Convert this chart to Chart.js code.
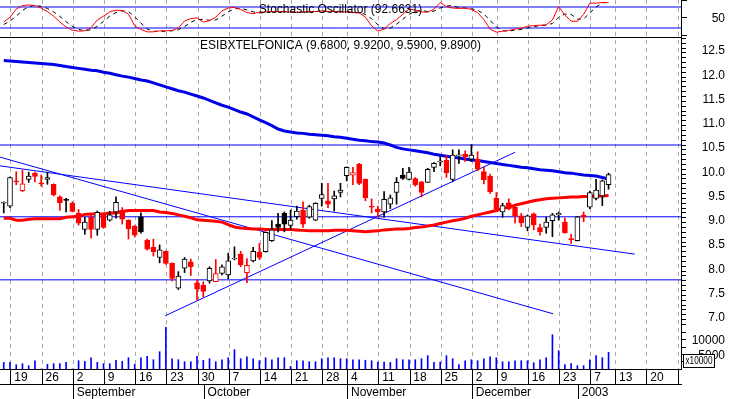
<!DOCTYPE html>
<html>
<head>
<meta charset="utf-8">
<script src="https://cdn.jsdelivr.net/npm/chart.js@4.4.1/dist/chart.umd.min.js"></script>
<style>
html, body { margin: 0; padding: 0; background: #fff; }
#wrap { width: 730px; height: 399px; }
</style>
</head>
<body>
<div id="wrap"><canvas id="chart" width="730" height="399"></canvas></div>
<script>
// trading day index: -1 = 16 Aug 2002, 0 = 19 Aug 2002 ... 96 = 10 Jan 2003
const firstDay = -1;
const symbol = "ESIBXTELFONICA";

const opens = [
  9.30, 9.24, 9.76, 9.56, 9.79, 9.92, 9.72, 9.79, 9.69, 9.43,
  9.38, 9.30, 9.09, 8.76, 9.01, 8.76, 9.08, 8.95, 9.12, 9.16,
  8.95, 8.83, 9.02, 8.54, 8.39, 8.18, 8.31, 8.06, 7.55, 7.96,
  8.09, 7.66, 7.61, 7.70, 7.68, 7.85, 7.82, 8.15, 8.25, 7.87,
  8.11, 8.29, 8.30, 8.53, 8.87, 9.09, 8.84, 9.02, 9.16, 9.01,
  8.95, 9.40, 9.35, 9.39, 9.52, 9.87, 9.88, 10.10, 9.79, 9.24,
  9.18, 9.12, 9.28, 9.52, 9.88, 9.79, 9.81, 9.74, 9.73, 10.04,
  10.15, 10.19, 9.79, 10.27, 10.31, 10.21, 10.21, 9.95, 9.86, 9.40,
  9.12, 9.31, 9.22, 9.04, 8.80, 9.08, 8.80, 8.80, 8.94, 9.06,
  8.91, 8.57, 8.53, 9.05, 9.22, 9.40, 9.45, 9.68
];
const highs = [
  9.33, 9.84, 9.95, 9.98, 9.94, 9.94, 9.88, 9.94, 9.70, 9.45,
  9.40, 9.33, 9.17, 9.01, 9.08, 9.14, 9.10, 9.13, 9.43, 9.21,
  8.96, 8.84, 9.10, 8.56, 8.56, 8.44, 8.32, 8.07, 7.89, 8.18,
  8.15, 7.73, 7.68, 7.99, 8.14, 8.03, 8.27, 8.40, 8.31, 8.16,
  8.39, 8.47, 8.71, 8.94, 9.09, 9.12, 9.16, 9.24, 9.33, 9.26,
  9.31, 9.71, 9.71, 9.55, 9.71, 10.05, 10.04, 10.12, 9.80, 9.39,
  9.24, 9.54, 9.47, 9.83, 10.02, 10.04, 9.83, 9.75, 10.02, 10.14,
  10.26, 10.29, 10.40, 10.40, 10.38, 10.51, 10.36, 10.04, 9.90, 9.52,
  9.30, 9.39, 9.23, 9.09, 9.06, 9.10, 8.87, 9.01, 9.09, 9.12,
  9.00, 8.66, 9.03, 9.12, 9.55, 9.79, 9.78, 9.92
];
const lows = [
  9.10, 9.21, 9.68, 9.54, 9.73, 9.74, 9.65, 9.69, 9.45, 9.15,
  9.12, 9.12, 8.85, 8.66, 8.58, 8.64, 8.78, 8.93, 8.99, 8.87,
  8.56, 8.60, 8.68, 8.33, 8.21, 8.07, 8.04, 7.70, 7.52, 7.87,
  7.81, 7.30, 7.37, 7.65, 7.68, 7.82, 7.74, 8.13, 7.99, 7.66,
  8.09, 8.14, 8.29, 8.51, 8.71, 8.71, 8.76, 8.97, 8.80, 8.99,
  8.94, 9.24, 9.21, 9.14, 9.43, 9.76, 9.68, 9.68, 9.35, 9.10,
  9.01, 9.01, 9.19, 9.28, 9.79, 9.78, 9.65, 9.43, 9.73, 9.95,
  10.07, 9.83, 9.74, 10.12, 10.16, 10.16, 9.97, 9.70, 9.50, 9.13,
  9.01, 9.16, 8.89, 8.82, 8.73, 8.75, 8.64, 8.68, 8.61, 8.95,
  8.68, 8.47, 8.52, 8.92, 9.19, 9.37, 9.25, 9.59
];
const closes = [
  9.32, 9.83, 9.74, 9.70, 9.86, 9.85, 9.70, 9.83, 9.47, 9.31,
  9.36, 9.13, 8.89, 8.91, 8.76, 9.11, 8.80, 9.06, 9.32, 8.97,
  8.77, 8.64, 8.71, 8.35, 8.30, 8.34, 8.06, 7.75, 7.80, 8.15,
  7.99, 7.53, 7.48, 7.96, 7.85, 7.99, 8.11, 8.17, 8.03, 8.02,
  8.31, 8.18, 8.70, 8.75, 8.80, 8.87, 8.95, 9.14, 8.87, 9.23,
  9.30, 9.48, 9.28, 9.45, 9.57, 10.04, 9.93, 9.71, 9.41, 9.22,
  9.12, 9.38, 9.41, 9.73, 9.81, 9.94, 9.68, 9.52, 10.00, 10.12,
  10.17, 9.93, 10.29, 10.30, 10.26, 10.29, 10.00, 9.78, 9.54, 9.17,
  9.25, 9.18, 9.04, 8.90, 9.04, 8.85, 8.71, 8.91, 9.06, 9.09,
  8.69, 8.55, 9.02, 9.01, 9.52, 9.57, 9.76, 9.89
];
// volume in units of 10000 shares
const volumes = [
  2250, 2250, 1470, 1810, 1130, 2830, 0, 1580, 1810, 1810,
  2250, 0, 2830, 2600, 3850, 2250, 1810, 1810, 2950, 2600,
  3850, 1580, 3850, 4300, 3170, 5900, 14200, 3510, 3170, 2490,
  2490, 4300, 2950, 3510, 2490, 3170, 3850, 6590, 3510, 4190,
  3510, 2830, 3850, 3170, 3850, 3850, 900, 2830, 2830, 2490,
  2490, 3510, 3850, 3850, 3510, 3510, 3170, 3170, 3000, 2830,
  2380, 2380, 2250, 3510, 3170, 3170, 3170, 3510, 4540, 2250,
  2380, 4540, 3510, 1470, 2830, 3170, 2830, 3510, 4190, 3850,
  2490, 2490, 2830, 2830, 2830, 2150, 3170, 3850, 11700, 6250,
  1470, 1810, 1130, 1130, 3170, 4540, 3850, 5680
];
const maLong = [
  12.24, 12.23, 12.22, 12.21, 12.20, 12.19, 12.18, 12.17, 12.16, 12.14,
  12.12, 12.10, 12.08, 12.06, 12.04, 12.03, 12.00, 11.98, 11.95, 11.92,
  11.90, 11.87, 11.84, 11.82, 11.78, 11.74, 11.70, 11.66, 11.62, 11.59,
  11.55, 11.51, 11.47, 11.42, 11.37, 11.32, 11.28, 11.23, 11.18, 11.14,
  11.08, 11.02, 10.96, 10.90, 10.83, 10.79, 10.77, 10.75, 10.74, 10.72,
  10.71, 10.70, 10.69, 10.67, 10.66, 10.64, 10.62, 10.60, 10.59, 10.57,
  10.56, 10.54, 10.50, 10.45, 10.42, 10.40, 10.38, 10.36, 10.34, 10.31,
  10.29, 10.27, 10.25, 10.23, 10.21, 10.19, 10.18, 10.16, 10.14, 10.12,
  10.10, 10.08, 10.06, 10.04, 10.03, 10.01, 9.99, 9.98, 9.97, 9.95,
  9.93, 9.92, 9.90, 9.88, 9.87, 9.86, 9.83, 9.80
];
const maShort = [
  8.99, 8.99, 8.95, 8.95, 8.97, 8.98, 8.98, 8.98, 8.98, 8.98,
  9.01, 9.02, 9.03, 9.07, 9.08, 9.08, 9.08, 9.10, 9.10, 9.13,
  9.15, 9.15, 9.15, 9.15, 9.15, 9.12, 9.11, 9.09, 9.06, 9.03,
  9.00, 8.96, 8.95, 8.94, 8.93, 8.91, 8.86, 8.81, 8.79, 8.78,
  8.77, 8.77, 8.76, 8.76, 8.76, 8.76, 8.76, 8.75, 8.74, 8.73,
  8.73, 8.73, 8.73, 8.74, 8.74, 8.74, 8.73, 8.72, 8.71, 8.72,
  8.73, 8.75, 8.76, 8.77, 8.77, 8.78, 8.80, 8.81, 8.83, 8.85,
  8.88, 8.91, 8.94, 8.96, 8.99, 9.03, 9.06, 9.09, 9.12, 9.15,
  9.19, 9.22, 9.26, 9.29, 9.32, 9.35, 9.37, 9.39, 9.40, 9.41,
  9.42, 9.43, 9.43, 9.44, 9.44, 9.45, 9.45, 9.46
];
const stochK = [
  37, 51, 74, 84, 86, 84, 77, 67, 54, 37,
  23, 14, 11, 12, 21, 43, 54, 66, 71, 70,
  60, 26, 16, 9, 9, 12, 12, 13, 20, 40,
  47, 49, 37, 41, 51, 69, 77, 79, 73, 64,
  61, 65, 66, 67, 67, 66, 66, 64, 66, 67,
  67, 69, 67, 67, 66, 66, 64, 63, 51, 26,
  11, 17, 33, 44, 59, 74, 71, 66, 65, 74,
  93, 81, 77, 76, 77, 73, 64, 44, 17, 8,
  11, 13, 17, 19, 25, 27, 28, 29, 43, 81,
  57, 40, 39, 59, 91, 91, 93, 92.6631
];
const stochD = [
  30, 40, 54, 70, 81, 85, 82, 76, 66, 53,
  38, 25, 16, 12, 15, 25, 39, 54, 64, 69,
  67, 52, 34, 17, 11, 10, 11, 12, 15, 24,
  36, 45, 44, 42, 43, 54, 66, 75, 76, 72,
  66, 63, 64, 66, 67, 67, 66, 65, 65, 66,
  67, 68, 68, 68, 67, 66, 65, 64, 59, 47,
  29, 18, 20, 31, 45, 59, 68, 70, 67, 68,
  77, 83, 84, 78, 77, 75, 71, 60, 42, 23,
  12, 11, 14, 16, 20, 24, 27, 28, 33, 51,
  60, 59, 45, 46, 63, 80, 92, 93
];
const stochLevels = [80, 20];
const priceLevels = [10.5, 9.02, 7.72];
// trend lines as [day index, price] pairs
const trendA = [[-1.6, 10.07], [100.2, 8.25]];
const trendB = [[-1.6, 10.25], [87.1, 7.02]];
const trendC = [[24.9, 6.98], [81.0, 10.35]];

const weekTicks = [0, 5, 10, 15, 20, 25, 30, 35, 40, 45, 50, 54, 59, 64, 69, 74, 78, 83, 88, 93, 97, 102, 107];
const weekLabels = ["19", "26", "2", "9", "16", "23", "30", "7", "14", "21", "28", "4", "11", "18", "25", "2", "9", "16", "23", "7", "13", "20", ""];
const monthTicks = [10, 31, 54, 74, 91];
const monthLabels = ["September", "October", "November", "December", "2003"];

const xMin = -1.604;
const xMax = 107.62;
const red = "#ff0000";
const black = "#000000";
const blue = "#0000ff";

Chart.defaults.font.family = '"Liberation Sans", Arial, sans-serif';
Chart.defaults.font.size = 12;
Chart.defaults.color = "#000";

const days = opens.map((_, k) => firstDay + k);
const series = arr => arr.map((v, k) => ({ x: days[k], y: v }));
const segment = pts => pts.map(p => ({ x: p[0], y: p[1] }));
const flat = v => [{ x: xMin, y: v }, { x: xMax, y: v }];

function candleColor(k) {
    return (k > 0 && closes[k] < closes[k - 1]) ? red : black;
}

function fixWidth(scale) {
    scale.width = 44;
    scale.paddingTop = 0;
    scale.paddingBottom = 0;
}

function fixHeight(scale) {
    scale.height = 15;
    scale.paddingLeft = 0;
    scale.paddingRight = 0;
}

const panelText = {
    id: "panelText",
    afterDraw(chart) {
        const ctx = chart.ctx;
        const area = chart.chartArea;
        const osc = chart.scales.yOsc;
        const price = chart.scales.yPrice;
        const vol = chart.scales.yVol;
        const last = opens.length - 1;
        const cx = (area.left + area.right) / 2;

        ctx.save();
        ctx.fillStyle = "#000";
        ctx.textAlign = "center";
        ctx.textBaseline = "middle";
        ctx.font = '12px "Liberation Sans", Arial, sans-serif';
        ctx.fillText("Stochastic Oscillator (" + stochK[last].toFixed(4) + ")", cx, osc.top + 9.5);
        ctx.fillText(symbol + " (" + [opens[last], highs[last], lows[last], closes[last]].map(v => v.toFixed(4)).join(", ") + ")", cx, price.top + 9);

        // line between oscillator and price panels
        ctx.strokeStyle = "#000";
        ctx.lineWidth = 1;
        ctx.beginPath();
        ctx.moveTo(area.left, Math.round(price.top) + 0.5);
        ctx.lineTo(area.right, Math.round(price.top) + 0.5);
        ctx.stroke();

        // volume multiplier box
        const bx = Math.round(vol.left) + 2.5;
        const by = Math.round(vol.bottom) - 14.5;
        ctx.fillStyle = "#fff";
        ctx.fillRect(bx, by, 31, 13);
        ctx.strokeRect(bx, by, 31, 13);
        ctx.fillStyle = "#000";
        ctx.textAlign = "left";
        ctx.font = '10px "Liberation Sans", Arial, sans-serif';
        ctx.fillText("x10000", bx + 2, by + 7, 27);
        ctx.restore();
    }
};

new Chart(document.getElementById("chart"), {

    type: "bar",

    data: {

        datasets: [

            {
                type: "bar",
                label: "Volume",
                yAxisID: "yVol",
                data: series(volumes),
                backgroundColor: blue,
                barThickness: 1,
                grouped: false,
                order: 6
            },

            ...stochLevels.map(v => ({
                type: "line",
                yAxisID: "yOsc",
                data: flat(v),
                borderColor: blue,
                borderWidth: 1,
                pointRadius: 0,
                order: 5
            })),

            {
                type: "line",
                label: "%D",
                yAxisID: "yOsc",
                data: series(stochD),
                borderColor: black,
                borderWidth: 1,
                borderDash: [4, 4],
                pointRadius: 0,
                order: 4
            },

            {
                type: "line",
                label: "%K",
                yAxisID: "yOsc",
                data: series(stochK),
                borderColor: red,
                borderWidth: 1,
                pointRadius: 0,
                order: 3
            },

            ...priceLevels.map(v => ({
                type: "line",
                yAxisID: "yPrice",
                data: flat(v),
                borderColor: blue,
                borderWidth: 1,
                pointRadius: 0,
                order: 5
            })),

            ...[trendA, trendB, trendC].map(t => ({
                type: "line",
                yAxisID: "yPrice",
                data: segment(t),
                borderColor: blue,
                borderWidth: 1,
                pointRadius: 0,
                order: 5
            })),

            {
                type: "line",
                label: "Long average",
                yAxisID: "yPrice",
                data: series(maLong),
                borderColor: "#0000e8",
                borderWidth: 3,
                pointRadius: 0,
                order: 2
            },

            {
                type: "line",
                label: "Short average",
                yAxisID: "yPrice",
                data: series(maShort),
                borderColor: red,
                borderWidth: 3,
                pointRadius: 0,
                order: 2
            },

            {
                type: "bar",
                label: "Wicks",
                yAxisID: "yPrice",
                data: days.map((d, k) => ({ x: d, y: [lows[k], highs[k]] })),
                backgroundColor: ctx => candleColor(ctx.dataIndex),
                barThickness: 1,
                grouped: false,
                order: 1
            },

            {
                type: "bar",
                label: "Bodies",
                yAxisID: "yPrice",
                data: days.map((d, k) => ({ x: d, y: [opens[k], closes[k]] })),
                backgroundColor: ctx => closes[ctx.dataIndex] < opens[ctx.dataIndex] ? candleColor(ctx.dataIndex) : "#ffffff",
                borderColor: ctx => candleColor(ctx.dataIndex),
                borderWidth: 1,
                borderSkipped: false,
                barThickness: 5,
                grouped: false,
                order: 0
            }

        ]

    },

    options: {

        responsive: false,
        animation: false,
        devicePixelRatio: 1,
        events: [],

        layout: {
            padding: { top: 0, left: 0, bottom: 0, right: 5 }
        },

        plugins: {
            legend: { display: false },
            title: { display: false },
            tooltip: { enabled: false }
        },

        scales: {

            x: {
                type: "linear",
                position: "bottom",
                min: xMin,
                max: xMax,
                offset: false,
                bounds: "data",
                grid: { color: "#a8a8a8", tickColor: "#000", tickLength: 15, offset: false },
                border: { color: "#000", dash: [4, 4] },
                ticks: {
                    align: "start",
                    padding: -14,
                    autoSkip: false,
                    maxRotation: 0,
                    minRotation: 0,
                    callback: (v, i) => " " + weekLabels[i]
                },
                afterBuildTicks: s => { s.ticks = weekTicks.map(t => ({ value: t + 0.16 })); },
                afterFit: fixHeight
            },

            xm: {
                type: "linear",
                position: "bottom",
                min: xMin,
                max: xMax,
                offset: false,
                bounds: "data",
                grid: { drawOnChartArea: false, offset: false, color: "#000", tickColor: "#000", tickLength: 15 },
                border: { color: "#000" },
                ticks: {
                    align: "start",
                    padding: -14,
                    autoSkip: false,
                    maxRotation: 0,
                    minRotation: 0,
                    callback: (v, i) => " " + monthLabels[i]
                },
                afterBuildTicks: s => { s.ticks = monthTicks.map(t => ({ value: t + 0.16 })); },
                afterFit: fixHeight
            },

            yOsc: {
                type: "linear",
                position: "right",
                stack: "panels",
                stackWeight: 37,
                min: -5.7,
                max: 100,
                grid: { drawOnChartArea: false, tickLength: 6, tickColor: "#000" },
                border: { color: "#000" },
                ticks: { crossAlign: "far", padding: 2, autoSkip: false, labelOffset: 1, callback: v => v === 50 ? "50" : "" },
                afterBuildTicks: s => { s.ticks = [0, 50, 100].map(v => ({ value: v })); },
                afterFit: fixWidth
            },

            yPrice: {
                type: "linear",
                position: "right",
                stack: "panels",
                stackWeight: 288,
                min: 6.789,
                max: 12.727,
                grid: { drawOnChartArea: false, tickLength: 5, tickColor: "#000" },
                border: { color: "#000" },
                ticks: {
                    crossAlign: "far",
                    padding: 2,
                    autoSkip: false,
                    labelOffset: 3,
                    callback: v => Math.abs(v * 2 - Math.round(v * 2)) < 0.001 ? v.toFixed(1) : ""
                },
                afterBuildTicks: s => {
                    const t = [];
                    for (let k = 68; k <= 127; k++) t.push({ value: k / 10 });
                    s.ticks = t;
                },
                afterFit: fixWidth
            },

            yVol: {
                type: "linear",
                position: "right",
                stack: "panels",
                stackWeight: 44,
                min: 0,
                max: 15017,
                grid: { drawOnChartArea: false, tickLength: 5, tickColor: "#000" },
                border: { color: "#000" },
                ticks: { crossAlign: "far", padding: 2, autoSkip: false, labelOffset: 1, callback: v => (v === 5000 || v === 10000) ? String(v) : "" },
                afterBuildTicks: s => { s.ticks = [2500, 5000, 7500, 10000, 12500].map(v => ({ value: v })); },
                afterFit: fixWidth
            }

        }

    },

    plugins: [panelText]

});
</script>
</body>
</html>
